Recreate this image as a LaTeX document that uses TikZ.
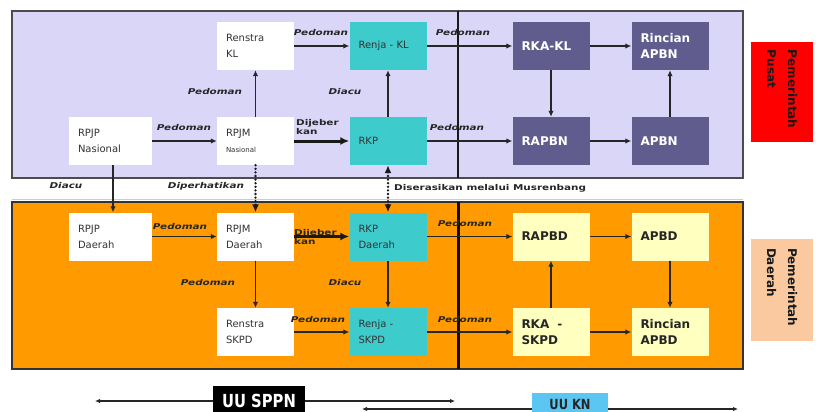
\documentclass[tikz,border=0pt]{standalone}
\usepackage{fontspec}
\setmainfont{DejaVu Sans}
\newfontfamily\widefont[FakeStretch=1.3]{DejaVu Sans}
\newfontfamily\narrowfont[FakeStretch=0.82]{DejaVu Sans}
\usetikzlibrary{arrows.meta}

\definecolor{lavender}{HTML}{DAD6F8}
\definecolor{amber}{HTML}{FF9A00}
\definecolor{tealbox}{HTML}{3DCBCB}
\definecolor{darkbox}{HTML}{615C8E}
\definecolor{palebox}{HTML}{FFFFBF}
\definecolor{peach}{HTML}{FAC9A0}
\definecolor{skyblue}{HTML}{5BC6F2}

\begin{document}
\begin{tikzpicture}[x=1pt,y=-1pt,
  every node/.style={inner sep=0pt},
  box/.style={minimum height=48pt, inner xsep=9pt, align=left, text width=59pt,
    font=\fontsize{10}{16}\selectfont, text=black!80},
  plain/.style={box, fill=white},
  teal/.style={box, fill=tealbox},
  dark/.style={box, fill=darkbox, text=white, font=\fontsize{12}{16}\selectfont\bfseries},
  pale/.style={box, fill=palebox, text=black!85, font=\fontsize{12}{16}\selectfont\bfseries},
  lbl/.style={font=\widefont\fontsize{8}{9}\selectfont\bfseries\itshape, text=black!85},
  lblup/.style={font=\widefont\fontsize{8}{9}\selectfont\bfseries, text=black!85, align=left},
  link/.style={-{Latex[length=6pt,width=5.5pt]}, line width=1.7pt, draw=black!85},
  heavy/.style={-{Latex[length=9pt,width=8pt]}, line width=3pt, draw=black!90},
  dots/.style={line width=2.6pt, dash pattern=on 0pt off 3.6pt, line cap=round, draw=black!90},
  side/.style={rotate=-90, align=left, text width=84pt, font=\fontsize{12}{21}\selectfont\bfseries, text=black!90},
  ends/.style={{Latex[length=5pt,width=4.5pt]}-{Latex[length=5pt,width=4.5pt]}, line width=1.4pt, draw=black!85}
]
\clip (0,0) rectangle (816,412);
\useasboundingbox (0,0) rectangle (816,412);
\fill[white] (0,0) rectangle (816,412);

% level panels
\draw[fill=lavender, draw=black!70, line width=1.5pt] (12,11) rectangle (743,178);
\draw[fill=amber, draw=black!80, line width=1.5pt] (12,202) rectangle (743,369);
\draw[black!20, line width=0.6pt] (12,199) -- (743,199);
\draw[black!90, line width=1.7pt] (458,11) -- (458,178);
\draw[black!95, line width=3pt] (458,202) -- (458,369);

% central government
\node[plain] (renstrakl) at (255.5,46) {Renstra\\KL};
\node[teal] (renjakl) at (388,46) {Renja - KL};
\node[plain, text width=65pt] (rpjpn) at (110.5,141) {RPJP\\Nasional};
\node[plain] (rpjmn) at (255.5,141) {RPJM\\{\fontsize{7}{8}\selectfont Nasional}};
\node[teal] (rkp) at (388,141) {RKP};
\node[dark] (rkakl) at (551,46) {RKA-KL};
\node[dark] (rincianapbn) at (670,46) {Rincian\\APBN};
\node[dark] (rapbn) at (551,141) {RAPBN};
\node[dark] (apbn) at (670,141) {APBN};

% regional government
\node[plain, text width=65pt] (rpjpd) at (110.5,236.5) {RPJP\\Daerah};
\node[plain] (rpjmd) at (255.5,236.5) {RPJM\\Daerah};
\node[teal] (rkpd) at (388,236.5) {RKP\\Daerah};
\node[plain] (renstraskpd) at (255.5,332) {Renstra\\SKPD};
\node[teal] (renjaskpd) at (388,332) {Renja -\\SKPD};
\node[pale] (rapbd) at (551,236.5) {RAPBD};
\node[pale] (apbd) at (670,236.5) {APBD};
\node[pale] (rkaskpd) at (551,332) {RKA \ -\\SKPD};
\node[pale] (rincianapbd) at (670,332) {Rincian\\APBD};

% side tags
\node[fill=red, minimum width=62pt, minimum height=100pt] (pusat) at (782,92) {};
\node[side] (pusattext) at (pusat.center) {Pemerintah\\Pusat};
\node[fill=peach, minimum width=62pt, minimum height=102pt] (daerah) at (782,290) {};
\node[side] (daerahtext) at (daerah.center) {Pemerintah\\Daerah};

% connectors, central level
\draw[link] (renstrakl) -- (renjakl);
\draw[link] (rpjmn) -- (renstrakl);
\draw[link] (rpjpn) -- (rpjmn);
\draw[heavy] (rpjmn) -- (rkp);
\draw[link] (rkp) -- (renjakl);
\draw[link] (renjakl) -- (rkakl);
\draw[link] (rkp) -- (rapbn);
\draw[link] (rkakl) -- (rincianapbn);
\draw[link] (rkakl) -- (rapbn);
\draw[link] (rapbn) -- (apbn);
\draw[link] (apbn) -- (rincianapbn);

\node[lbl] (l1) at (321,33) {Pedoman};
\node[lbl] (l2) at (215,92) {Pedoman};
\node[lbl] (l3) at (184,128) {Pedoman};
\node[lblup, anchor=west] (l4) at (296,127) {Dijeber\\kan};
\node[lbl] (l5) at (345,92) {Diacu};
\node[lbl] (l6) at (463,33) {Pedoman};
\node[lbl] (l7) at (457,128) {Pedoman};

% connectors between levels
\draw[link] ([xshift=2.5pt]rpjpn.south) -- ([xshift=2.5pt]rpjpd.north);
\draw[dots, -{Latex[length=8pt,width=7pt]}] (rpjmn.south) -- (rpjmd.north);
\draw[dots, {Latex[length=8pt,width=7pt]}-{Latex[length=8pt,width=7pt]}] (rkp.south) -- (rkpd.north);
\node[lbl] (l8) at (66,186) {Diacu};
\node[lbl] (l9) at (206,186) {Diperhatikan};
\node[lblup, anchor=west] (l10) at (394,188) {Diserasikan melalui Musrenbang};

% connectors, regional level
\draw[link] (rpjpd) -- (rpjmd);
\draw[heavy] (rpjmd) -- (rkpd);
\draw[link] (rpjmd) -- (renstraskpd);
\draw[link] (rkpd) -- (renjaskpd);
\draw[link] (renstraskpd) -- (renjaskpd);
\draw[link] (rkpd) -- (rapbd);
\draw[link] (renjaskpd) -- (rkaskpd);
\draw[link] (rkaskpd) -- (rapbd);
\draw[link] (rapbd) -- (apbd);
\draw[link] (apbd) -- (rincianapbd);
\draw[link] (rkaskpd) -- (rincianapbd);

\node[lbl] (l11) at (180,227) {Pedoman};
\node[lblup, anchor=west] (l12) at (294,237) {Dijeber\\kan};
\node[lbl] (l13) at (208,283) {Pedoman};
\node[lbl] (l14) at (345,283) {Diacu};
\node[lbl] (l15) at (318,320) {Pedoman};
\node[lbl] (l16) at (465,224) {Pedoman};
\node[lbl] (l17) at (465,320) {Pedoman};

% legal basis spans
\coordinate (sppnl) at (95,401);
\coordinate (sppnr) at (455,401);
\coordinate (knl) at (362,409);
\coordinate (knr) at (738,409);
\draw[ends] (sppnl) -- (sppnr);
\draw[ends] (knl) -- (knr);
\node[fill=black, text=white, minimum width=92pt, minimum height=30pt,
  font=\narrowfont\fontsize{18}{20}\selectfont\bfseries] (sppn) at (259,401) {UU SPPN};
\node[fill=skyblue, text=black!85, minimum width=76pt, minimum height=22pt,
  font=\narrowfont\fontsize{14}{16}\selectfont\bfseries] (kn) at (570,404) {UU KN};
\end{tikzpicture}
\end{document}
